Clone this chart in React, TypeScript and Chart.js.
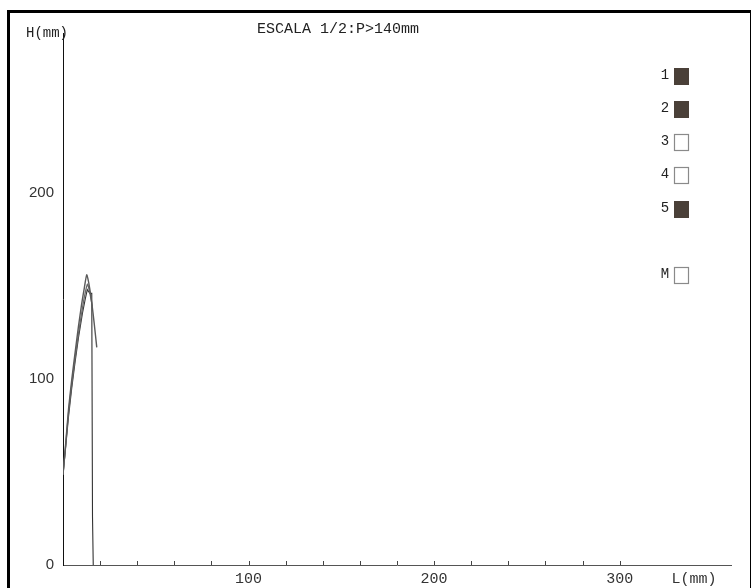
import React, { useEffect, useRef } from "react";
import { Chart, registerables } from "chart.js";

Chart.register(...registerables);

// ---- Data (mm) ----
const curve1L = [0, 1.5, 3, 4.7, 6.5, 8.3, 10, 11.5, 12.8, 14, 15.5, 16.8, 18.2];
const curve1H = [48.5, 66, 84, 99.5, 114, 128, 140, 149, 156, 151, 141, 130, 117];

const curve2L = [0, 1.5, 3, 4.7, 6.5, 8.3, 10, 11.5, 13.2, 14.5, 15.8];
const curve2H = [48.5, 65, 82, 97, 111, 124, 135, 144, 151, 146, 139];

const curve3L = [0, 1.5, 3, 4.7, 6.5, 8.3, 10.6, 12, 13.1, 14.5, 15.5, 15.9, 16.3];
const curve3H = [48.5, 64, 80, 95, 109, 122, 136, 143, 148, 146, 146, 26, 0];

const xMin = 0;
const xMax = 360;
const yMin = 0;
const yMax = 286;
const xTickStep = 20;
const xTickMarks = [20, 40, 60, 80, 100, 120, 140, 160, 180, 200, 220, 240, 260, 280, 300];
const xLabelValues = [100, 200, 300];
const xAxisTitleValue = 340;
const xAxisTitle = "L(mm)";
const yTickStep = 100;
const yAxisTitle = "H(mm)";
const chartTitle = "ESCALA 1/2:P>140mm";

const legendLabels = ["1", "2", "3", "4", "5", "M"];
const legendFilled = [true, true, false, false, true, false];

const toPoints = (xs: number[], ys: number[]) => xs.map((x, i) => ({ x, y: ys[i] }));

export default function App() {
  const canvasRef = useRef<HTMLCanvasElement | null>(null);

  useEffect(() => {
    if (!canvasRef.current) return;

    const overlay = {
      id: "overlay",
      afterDraw(chart: any) {
        const ctx = chart.ctx;
        const xs = chart.scales.x;
        const ys = chart.scales.y;
        ctx.save();
        // inward tick marks on x axis
        ctx.strokeStyle = "#444";
        ctx.lineWidth = 1;
        const y0 = ys.getPixelForValue(0);
        xTickMarks.forEach((v) => {
          const px = Math.round(xs.getPixelForValue(v)) + 0.5;
          ctx.beginPath();
          ctx.moveTo(px, y0);
          ctx.lineTo(px, y0 - 4);
          ctx.stroke();
        });
        // title
        ctx.fillStyle = "#222";
        ctx.font = "15px 'Liberation Mono', monospace";
        ctx.textAlign = "center";
        ctx.textBaseline = "middle";
        ctx.fillText(chartTitle, 338, 29);
        // y axis title
        ctx.font = "14px 'Liberation Mono', monospace";
        ctx.textAlign = "left";
        ctx.fillText(yAxisTitle, 26, 33);
        // legend
        const rowY = [76, 109, 142, 175, 209, 275];
        legendLabels.forEach((lab, i) => {
          const cy = rowY[i];
          ctx.fillStyle = "#222";
          ctx.font = "14px 'Liberation Mono', monospace";
          ctx.textAlign = "center";
          ctx.fillText(lab, 665, cy - 1);
          if (legendFilled[i]) {
            ctx.fillStyle = "#4a4038";
            ctx.fillRect(674, cy - 8, 15, 17);
          } else {
            ctx.strokeStyle = "#8a8a8a";
            ctx.lineWidth = 1.2;
            ctx.strokeRect(674.5, cy - 7.5, 14, 16);
          }
        });
        ctx.restore();
      },
    };

    const lineDs = (label: string, pts: any[], color: string, width: number) => ({
      label,
      data: pts,
      showLine: true,
      borderColor: color,
      borderWidth: width,
      pointRadius: 0,
      fill: false,
      tension: 0.2,
    });

    const chart = new Chart(canvasRef.current, {
      type: "scatter",
      data: {
        datasets: [
          lineDs("1", toPoints(curve1L, curve1H), "#5a5a5a", 1.4),
          lineDs("2", toPoints(curve2L, curve2H), "#6a6a6a", 1.3),
          { ...lineDs("5", toPoints(curve3L, curve3H), "#333", 1.1), tension: 0 },
        ],
      },
      options: {
        animation: false,
        responsive: false,
        maintainAspectRatio: false,
        layout: { padding: { left: 0, right: 20, top: 33, bottom: 0 } },
        plugins: {
          legend: { display: false },
          tooltip: { enabled: false },
          title: { display: false },
        },
        scales: {
          x: {
            type: "linear",
            min: xMin,
            max: xMax,
            afterFit: (s: any) => {
              s.height = 23;
            },
            grid: { display: false, drawTicks: false },
            border: { display: true, color: "#555", width: 1 },
            ticks: {
              stepSize: xTickStep,
              autoSkip: false,
              maxRotation: 0,
              padding: 5,
              color: "#333",
              font: { family: "'Liberation Mono', monospace", size: 15 },
              callback: (v: any) => {
                const n = Number(v);
                if (xLabelValues.includes(n)) return String(n);
                if (n === xAxisTitleValue) return xAxisTitle;
                return "";
              },
            },
          },
          y: {
            type: "linear",
            min: yMin,
            max: yMax,
            afterFit: (s: any) => {
              s.width = 63;
            },
            grid: { display: false, drawTicks: false },
            border: { display: true, color: "#111", width: 1 },
            ticks: {
              stepSize: yTickStep,
              includeBounds: false,
              padding: 9,
              color: "#333",
              font: { family: "'Liberation Sans', sans-serif", size: 15 },
            },
          },
        },
      },
      plugins: [overlay],
    } as any);

    return () => chart.destroy();
  }, []);

  return (
    <div style={{ position: "fixed", left: 0, top: 0, width: 751, height: 588, background: "#fff", overflow: "hidden" }}>
      <canvas ref={canvasRef} width={751} height={588} style={{ position: "absolute", left: 0, top: 0, width: 751, height: 588 }} />
      <div
        style={{
          position: "absolute",
          left: 7,
          top: 10,
          width: 740,
          height: 600,
          borderLeft: "3px solid #000",
          borderTop: "3px solid #000",
          borderRight: "2px solid #000",
          pointerEvents: "none",
        }}
      />
    </div>
  );
}
